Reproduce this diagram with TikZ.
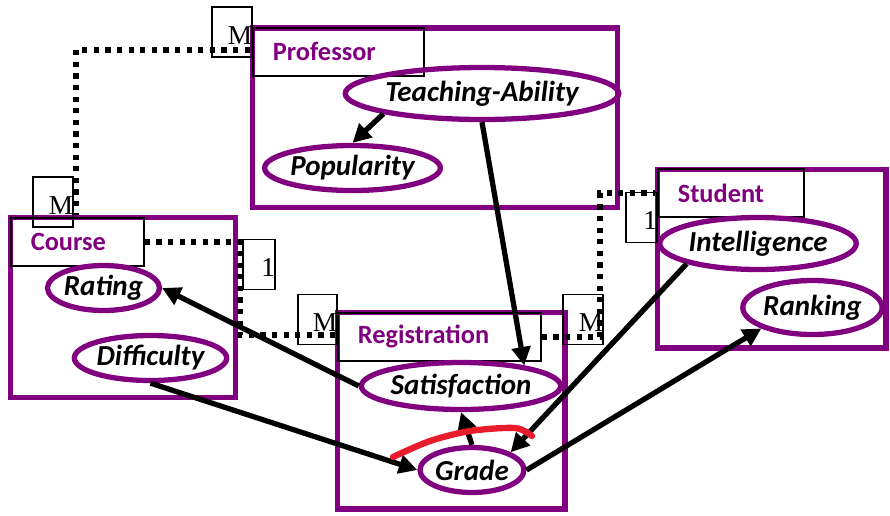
\documentclass[tikz,border=0pt]{standalone}
\usepackage{fontspec}
\setmainfont{Carlito}
\newfontfamily\multfont{Liberation Serif}
\usetikzlibrary{arrows.meta,shapes.geometric,fit}
\definecolor{entpurple}{RGB}{128,0,128}
\definecolor{markred}{RGB}{232,28,42}

\begin{document}
\begin{tikzpicture}[x=0.02cm,y=-0.02cm,
	frame/.style={draw=entpurple,line width=3.1pt,inner sep=0pt},
	titlebox/.style={draw,line width=1pt,anchor=north west,inner xsep=0.4cm,inner ysep=0pt,
		minimum height=0.96cm,align=left,text width=#1,text=entpurple,
		font=\fontsize{15}{18}\selectfont\bfseries},
	attr/.style={ellipse,draw=entpurple,line width=3pt,inner sep=0pt,
		font=\fontsize{16.5}{20}\selectfont\bfseries\itshape},
	cardbox/.style={draw,line width=1pt,inner xsep=0pt,inner ysep=0pt,text width=#1,align=right,
		minimum height=1cm,text height=14pt,text depth=0pt,font=\fontsize{15.5}{18}\multfont},
	relline/.style={line width=3pt,dash pattern=on 3pt off 3.6pt},
	infl/.style={line width=3pt,-{Triangle[length=10.5pt,width=10.5pt]}}]
	\useasboundingbox (0,0) rectangle (890,515);
	\node[frame,fit={(252.5,28) (617.5,207.5)}] (prof) {};
	\node[frame,fit={(10.5,217.5) (235.5,397.5)}] (course) {};
	\node[frame,fit={(337.5,312.5) (565,509)}] (reg) {};
	\node[frame,fit={(657.5,169.5) (886,348)}] (stud) {};
	\node[titlebox=2.62cm] (ptitle) at (252,27) {Professor};
	\node[titlebox=1.86cm] (ctitle) at (10,217) {Course};
	\node[titlebox=3.26cm] (rtitle) at (337,312) {Registration};
	\node[titlebox=2.12cm] (stitle) at (657,168) {Student};
	\node[attr,minimum width=4.5cm,minimum height=1.04cm] (teach) at (482,93.5) {Teaching-Ability};
	\node[attr,minimum width=2.8cm,minimum height=0.9cm] (pop) at (352.5,168) {Popularity};
	\node[attr,minimum width=2.16cm,minimum height=0.9cm] (rating) at (103.5,288) {Rating};
	\node[attr,minimum width=2.8cm,minimum height=0.9cm] (diff) at (150.5,358) {Difficulty};
	\node[attr,minimum width=3.74cm,minimum height=0.94cm] (sat) at (461,386) {Satisfaction};
	\node[attr,minimum width=1.94cm,minimum height=0.9cm] (grade) at (472,470) {Grade};
	\node[attr,minimum width=3.1cm,minimum height=1.04cm] (intel) at (758,243.5) {Intelligence};
	\node[attr,minimum width=2.48cm,minimum height=1.08cm] (rank) at (812.5,307.5) {Ranking};
	\coordinate (bendA) at (76,50);
	\coordinate (bendB) at (240,335);
	\coordinate (bendC) at (600,193);
	\draw[relline] (bendA -| prof.west) -- (bendA) -- (bendA |- course.north);
	\draw[relline] (ctitle.east) -| (bendB) -- (bendB -| reg.west);
	\draw[relline] (rtitle.east) -| (bendC) -- (bendC -| stud.west);
	\node[cardbox=0.8cm] (mprof) at (232,32) {M};
	\node[cardbox=0.8cm] (mcourse) at (53,202) {M};
	\node[cardbox=0.64cm] (onecourse) at (259,264.5) {1\hspace{3pt}};
	\node[cardbox=0.78cm] (mregl) at (317.5,319.5) {M};
	\node[cardbox=0.8cm] (mregr) at (583,319.5) {M};
	\node[cardbox=0.62cm] (onestud) at (641.5,217.5) {1\hspace{4pt}};
	\draw[infl] (teach.south west) -- (pop.north);
	\draw[infl] (teach.south) -- (sat.18);
	\draw[infl] (sat.west) -- (rating.east);
	\draw[infl] (diff.south) -- (grade.west);
	\draw[infl] (grade.north) -- (sat.south);
	\draw[infl] (intel.south west) -- (grade.north east);
	\draw[infl] (grade.east) -- (rank.south west);
	\draw[markred,line width=3.6pt,line cap=round] plot[smooth] coordinates {(393,457) (430,441) (470,431) (515,428) (532,436)};
\end{tikzpicture}
\end{document}
